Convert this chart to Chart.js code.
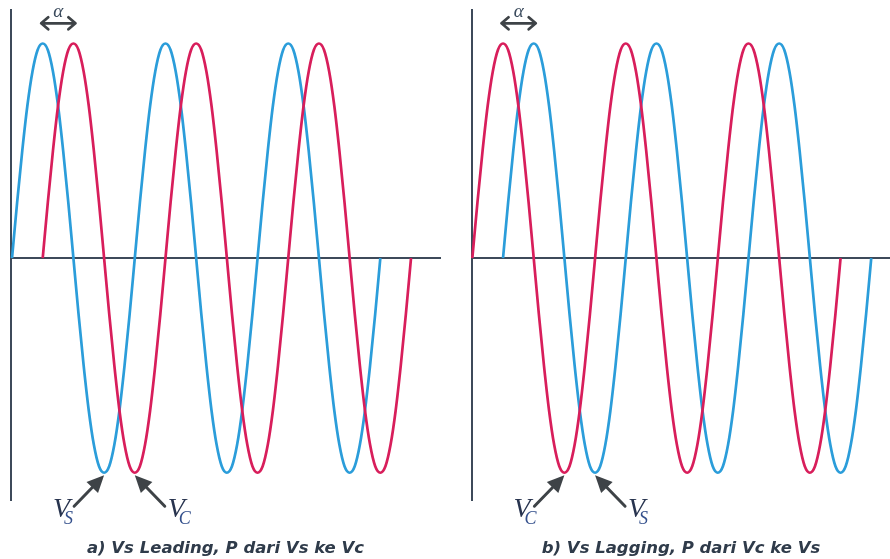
<!DOCTYPE html>
<html>
<head>
<meta charset="utf-8">
<script src="https://cdn.jsdelivr.net/npm/chart.js@4/dist/chart.umd.min.js"></script>
<style>
  html, body { margin: 0; padding: 0; background: #ffffff; }
  #wrap { position: relative; width: 890px; height: 559px; overflow: hidden; }
  #wrap canvas { position: absolute; top: 0; }
</style>
</head>
<body>
<div id="wrap">
  <canvas id="leading" width="445" height="559" style="left:0"></canvas>
  <canvas id="lagging" width="445" height="559" style="left:445px"></canvas>
</div>
<script>
// Voltage level (per unit) sampled every 15 degrees over three full cycles
const stepDeg = 15;
const waveLevels = [
   0, 0.26, 0.5, 0.71, 0.87, 0.97, 1, 0.97, 0.87, 0.71, 0.5, 0.26,
   0, -0.26, -0.5, -0.71, -0.87, -0.97, -1, -0.97, -0.87, -0.71, -0.5, -0.26,
   0, 0.26, 0.5, 0.71, 0.87, 0.97, 1, 0.97, 0.87, 0.71, 0.5, 0.26,
   0, -0.26, -0.5, -0.71, -0.87, -0.97, -1, -0.97, -0.87, -0.71, -0.5, -0.26,
   0, 0.26, 0.5, 0.71, 0.87, 0.97, 1, 0.97, 0.87, 0.71, 0.5, 0.26,
   0, -0.26, -0.5, -0.71, -0.87, -0.97, -1, -0.97, -0.87, -0.71, -0.5, -0.26,
   0
];

// Angle (degrees) at which each trace starts, per panel
const leadingStart = { Vs: 0, Vc: 90 };
const laggingStart = { Vc: 0, Vs: 90 };

// Phase angle alpha between the two traces (degrees)
const alphaDeg = 90;

// Panel captions
const captions = [
  'a) Vs Leading, P dari Vs ke Vc',
  'b) Vs Lagging, P dari Vc ke Vs'
];

const BLUE = '#2b9dda';
const RED = '#d81e5b';
const AXIS = '#3d4a5a';
const INK = '#3e4347';

function tracePoints(start) {
  return waveLevels.map((v, i) => ({ x: start + i * stepDeg, y: v }));
}

// Draws the alpha marker, the V labels with arrows and the caption
const waveNotes = {
  id: 'waveNotes',
  afterDraw(chart, args, opts) {
    const { ctx, chartArea } = chart;
    const xs = chart.scales.x, ys = chart.scales.y;
    ctx.save();

    // alpha double arrow between the first peaks
    const x1 = xs.getPixelForValue(opts.alphaFrom) - 1.5;
    const x2 = xs.getPixelForValue(opts.alphaFrom + alphaDeg) + 2;
    const ya = ys.getPixelForValue(1.094);
    ctx.strokeStyle = INK;
    ctx.lineWidth = 2.8;
    ctx.lineCap = 'round';
    ctx.lineJoin = 'round';
    ctx.beginPath();
    ctx.moveTo(x1, ya); ctx.lineTo(x2, ya);
    ctx.moveTo(x1 + 7, ya - 6); ctx.lineTo(x1, ya); ctx.lineTo(x1 + 7, ya + 6);
    ctx.moveTo(x2 - 7, ya - 6); ctx.lineTo(x2, ya); ctx.lineTo(x2 - 7, ya + 6);
    ctx.stroke();
    ctx.fillStyle = '#3a4a5c';
    ctx.font = 'italic 19px "Liberation Serif"';
    ctx.textAlign = 'center';
    ctx.textBaseline = 'alphabetic';
    ctx.fillText('\u03b1', (x1 + x2) / 2, ya - 6);

    // V labels pointing at the first troughs
    opts.labels.forEach(lb => {
      const tip = { x: xs.getPixelForValue(lb.deg), y: ys.getPixelForValue(-1) + 2.5 };
      const dir = lb.side === 'left' ? -1 : 1;
      const tail = { x: tip.x + dir * 30, y: tip.y + 31 };
      const ang = Math.atan2(tip.y - tail.y, tip.x - tail.x);
      const headLen = 17, headHalf = 8;
      const bx = tip.x - Math.cos(ang) * headLen, by = tip.y - Math.sin(ang) * headLen;
      ctx.strokeStyle = INK;
      ctx.fillStyle = INK;
      ctx.lineWidth = 3;
      ctx.beginPath();
      ctx.moveTo(tail.x, tail.y); ctx.lineTo(bx, by);
      ctx.stroke();
      ctx.beginPath();
      ctx.moveTo(tip.x, tip.y);
      ctx.lineTo(bx + Math.sin(ang) * headHalf, by - Math.cos(ang) * headHalf);
      ctx.lineTo(bx - Math.sin(ang) * headHalf, by + Math.cos(ang) * headHalf);
      ctx.closePath();
      ctx.fill();

      const vx = lb.side === 'left' ? tip.x - 51 : tip.x + 33;
      const vy = tip.y + 42;
      ctx.textAlign = 'left';
      ctx.fillStyle = '#28344f';
      ctx.font = 'italic 28px "Liberation Serif"';
      ctx.fillText('V', vx, vy);
      ctx.fillStyle = '#34508c';
      ctx.font = 'italic 18px "Liberation Serif"';
      ctx.fillText(lb.sub, vx + 11, vy + 7);
    });

    // caption under the panel
    ctx.fillStyle = '#2f3b4a';
    ctx.font = 'bold italic 16.5px "DejaVu Sans"';
    ctx.textAlign = 'center';
    ctx.fillText(opts.caption, (chartArea.left + chartArea.right) / 2, 553);
    ctx.restore();
  }
};

function buildPanel(canvasId, traces, xMin, xMax, padLeft, padRight, notes) {
  return new Chart(document.getElementById(canvasId), {
    type: 'line',
    data: {
      datasets: traces.map(t => ({
        label: t.label,
        data: tracePoints(t.start),
        borderColor: t.color,
        borderWidth: 2.7,
        pointRadius: 0,
        fill: false,
        cubicInterpolationMode: 'monotone',
        clip: 4
      }))
    },
    options: {
      responsive: false,
      animation: false,
      events: [],
      layout: { padding: { left: padLeft, right: padRight, top: 10, bottom: 59 } },
      plugins: {
        legend: { display: false },
        tooltip: { enabled: false },
        waveNotes: notes
      },
      scales: {
        x: {
          type: 'linear',
          min: xMin, max: xMax,
          position: { y: 0 },
          z: 1,
          grid: { display: false, drawTicks: false },
          ticks: { display: false },
          border: { display: true, color: AXIS, width: 2 }
        },
        y: {
          type: 'linear',
          min: -1.127, max: 1.156,
          grid: { display: false, drawTicks: false },
          ticks: { display: false },
          border: { display: true, color: AXIS, width: 2 }
        }
      }
    },
    plugins: [waveNotes]
  });
}

// a) Vs leading Vc
buildPanel('leading',
  [
    { label: 'Vc', start: leadingStart.Vc, color: RED },
    { label: 'Vs', start: leadingStart.Vs, color: BLUE }
  ],
  -3, 1255, 11, 5,
  {
    caption: captions[0],
    alphaFrom: leadingStart.Vs + 90,
    labels: [
      { sub: 'S', deg: leadingStart.Vs + 270, side: 'left' },
      { sub: 'C', deg: leadingStart.Vc + 270, side: 'right' }
    ]
  });

// b) Vs lagging Vc
buildPanel('lagging',
  [
    { label: 'Vc', start: laggingStart.Vc, color: RED },
    { label: 'Vs', start: laggingStart.Vs, color: BLUE }
  ],
  -1, 1225, 27, 0,
  {
    caption: captions[1],
    alphaFrom: laggingStart.Vc + 90,
    labels: [
      { sub: 'C', deg: laggingStart.Vc + 270, side: 'left' },
      { sub: 'S', deg: laggingStart.Vs + 270, side: 'right' }
    ]
  });
</script>
</body>
</html>
